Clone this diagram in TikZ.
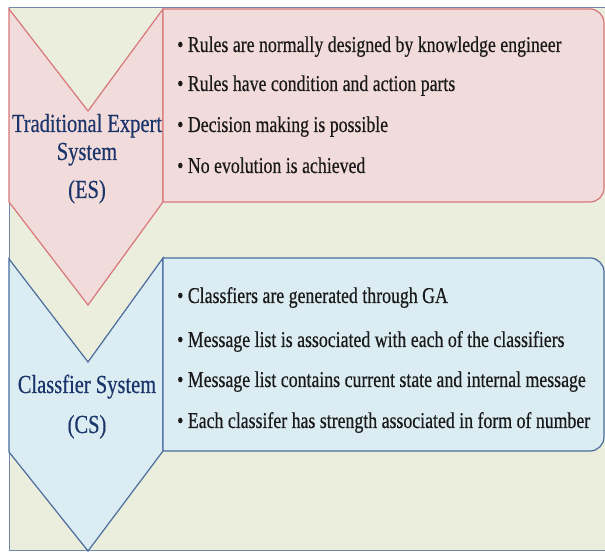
\documentclass[tikz,border=0pt]{standalone}
\usepackage{graphicx}
\usepackage{fontspec}
\setmainfont{Liberation Serif}
\newfontfamily\heavyserif[FakeBold=0.5]{Liberation Serif}
\definecolor{bgpanel}{HTML}{EBEEDD}
\definecolor{framecol}{HTML}{6F87AD}
\definecolor{esfill}{HTML}{F2DCDB}
\definecolor{esline}{HTML}{D7777A}
\definecolor{csfill}{HTML}{DBECF3}
\definecolor{csline}{HTML}{4A6C9C}
\definecolor{labelcol}{HTML}{1B346A}
\definecolor{itemcol}{HTML}{1A1A1A}
% tall serif lettering used for every text in the chart
\newcommand\tallText[1]{\scalebox{1}[1.27]{#1}}
\tikzset{
  panel/.style={fill=bgpanel, draw=framecol, line width=1pt},
  esshape/.style={fill=esfill, draw=esline, line width=1.2pt, line join=miter},
  csshape/.style={fill=csfill, draw=csline, line width=1.2pt, line join=miter},
  headlabel/.style={text=labelcol, font=\heavyserif\fontsize{20.5}{29}\selectfont,
                    anchor=base, inner sep=0pt},
  item/.style={text=itemcol, font=\heavyserif\fontsize{17.8}{20}\selectfont,
               anchor=base west, inner sep=0pt},
}
\begin{document}
\begin{tikzpicture}[x=1pt, y=1pt]
  \useasboundingbox (0,0) rectangle (605,554);
  % panel behind everything
  \draw[panel] (9,3) rectangle (606,546);

  % ---- Traditional Expert System ----
  \draw[esshape] (9,545) -- (88,443) -- (163,545) -- (163,352) -- (88,249) -- (9,352) -- cycle;
  \draw[esshape] (163,352) -- (163,545) -- (590,545)
      arc[start angle=90, end angle=0, radius=14] -- (604,366)
      arc[start angle=0, end angle=-90, radius=14] -- cycle;
  \node[headlabel] (esline1) at (87,422) {\tallText{Traditional Expert}};
  \node[headlabel] (esline2) at (87,394) {\tallText{System}};
  \node[headlabel] (esline3) at (87,356) {\tallText{(ES)}};
  \node[item] (es1) at (177,502) {\tallText{• Rules are normally designed by knowledge engineer}};
  \node[item] (es2) at (177,463) {\tallText{• Rules have condition and action parts}};
  \node[item] (es3) at (177,422) {\tallText{• Decision making is possible}};
  \node[item] (es4) at (177,381) {\tallText{• No evolution is achieved}};

  % ---- Classifier System ----
  \draw[csshape] (9,295) -- (88,192) -- (163,296) -- (163,103) -- (88,3) -- (9,102) -- cycle;
  \draw[csshape] (163,103) -- (163,296) -- (590,296)
      arc[start angle=90, end angle=0, radius=14] -- (604,117)
      arc[start angle=0, end angle=-90, radius=14] -- cycle;
  \node[headlabel] (csline1) at (87,161) {\tallText{Classfier System}};
  \node[headlabel] (csline2) at (87,121) {\tallText{(CS)}};
  \node[item] (cs1) at (177,251) {\tallText{• Classfiers are generated through GA}};
  \node[item] (cs2) at (177,207) {\tallText{• Message list is associated with each of the classifiers}};
  \node[item] (cs3) at (177,167) {\tallText{• Message list contains current state and internal message}};
  \node[item] (cs4) at (177,126) {\tallText{• Each classifer has strength associated in form of number}};
\end{tikzpicture}
\end{document}
